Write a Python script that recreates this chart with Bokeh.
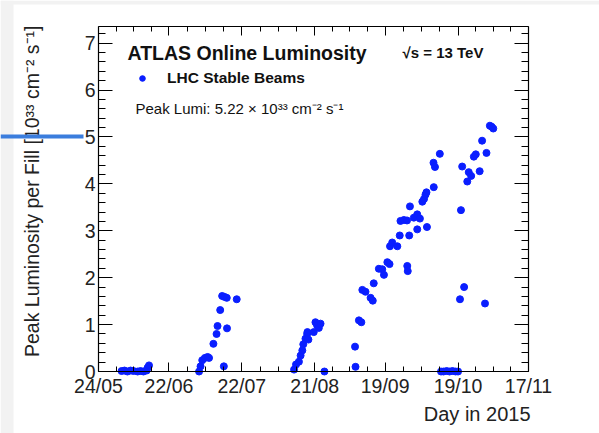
import numpy as np
from bokeh.plotting import figure
from bokeh.models import (Range1d, FixedTicker, LinearAxis, Label, BoxAnnotation,
                          Legend, LegendItem)
from bokeh.embed import file_html
from bokeh.resources import INLINE

# ---- data: day of year 2015 (1 = 1 Jan) and peak luminosity [1e33 cm-2 s-1]
fill_day = [153.5, 154.7, 155.9, 157.2, 158.4, 160.1, 161.3, 162.5, 163.8, 164.2, 164.8,
            185.4, 186.0, 186.7, 187.8, 188.9, 189.5, 191.3, 192.6, 193.0, 194.1, 194.9,
            195.9, 196.8, 196.9, 195.6, 200.9,
            224.5, 225.3, 226.5, 227.2, 227.9, 228.3, 229.2, 229.9, 230.4, 230.0, 232.6,
            233.3, 234.0, 234.7, 235.4, 237.0,
            249.8, 249.6, 251.2, 252.2, 252.6, 253.9, 256.0, 256.9, 257.3, 259.4, 260.8,
            261.5, 262.9, 263.8, 264.0, 264.9, 267.0, 268.0, 268.3, 269.7, 271.0, 271.1,
            271.3, 271.9, 272.2, 273.8, 275.2, 276.3, 275.2, 279.2, 277.3, 278.0, 278.6,
            279.0, 282.0, 281.9, 282.5, 284.5,
            285.0, 286.0, 287.3, 288.5, 289.7, 291.0, 292.0,
            292.8, 293.2, 293.7, 294.5, 295.8, 296.4, 297.4, 298.5, 299.3, 300.9, 301.9,
            303.1, 303.7, 305.1, 305.8, 306.5]
peak_lumi = [0.01, 0.02, 0.00, 0.02, 0.01, 0.00, 0.01, 0.00, 0.02, 0.08, 0.13,
             0.00, 0.11, 0.24, 0.29, 0.31, 0.29, 0.59, 0.80, 0.97, 1.31, 1.61,
             1.59, 1.57, 0.92, 0.11, 1.54,
             0.04, 0.15, 0.21, 0.34, 0.45, 0.58, 0.70, 0.80, 0.68, 0.84, 0.84,
             1.05, 0.98, 0.93, 1.02, 0.00,
             0.10, 0.53, 1.09, 1.05, 1.74, 1.70, 1.57, 1.51, 1.88, 2.19, 2.18,
             2.06, 2.33, 2.29, 2.67, 2.75, 2.67, 2.90, 3.21, 3.23, 3.22, 2.25,
             2.14, 2.90, 3.52, 3.28, 3.35, 3.26, 3.03, 3.08, 3.62, 3.68, 3.77,
             3.82, 3.93, 4.45, 4.36, 4.64,
             0.00, 0.00, 0.01, 0.00, 0.01, 0.00, 0.00,
             1.54, 3.44, 4.37, 1.80, 4.05, 4.25, 4.17, 4.58, 4.63, 4.27, 4.92,
             1.45, 4.66, 5.24, 5.22, 5.18]

x_tick_days = [144, 173, 203, 233, 262, 292, 321]
x_tick_labels = ["24/05", "22/06", "22/07", "21/08", "19/09", "19/10", "17/11"]
y_ticks = [0, 1, 2, 3, 4, 5, 6, 7]

# axis extent (data) and where the axis box sits on the page (pixels)
X0, X1 = 144, 321
Y0, Y1 = 0.0, 7.355
W, H = 599, 433
FL, FR, FT, FB = 98, 528, 26, 371

kx = (FR - FL) / (X1 - X0)
ky = (FB - FT) / (Y1 - Y0)

def sx(px):
    return X0 + (px - FL) / kx

def sy(py):
    return Y0 + (FB - py) / ky

FONT = "Liberation Sans"

p = figure(width=W, height=H,
           x_range=Range1d(sx(0), sx(W)), y_range=Range1d(sy(H), sy(0)),
           x_axis_location=None, y_axis_location=None,
           output_backend="svg", toolbar_location=None,
           min_border_left=0, min_border_right=0, min_border_top=0, min_border_bottom=0)
p.grid.visible = False
p.background_fill_color = "white"
p.border_fill_color = "white"
p.outline_line_color = None

# light page border strips of the screenshot
p.add_layout(BoxAnnotation(right=sx(13), fill_color="#f2f2f2", fill_alpha=1.0,
                           line_color=None, level="underlay"))
p.add_layout(BoxAnnotation(bottom=sy(4), fill_color="#f2f2f2", fill_alpha=1.0,
                           line_color=None, level="underlay"))

x_minor = []
for a, b in zip(x_tick_days[:-1], x_tick_days[1:]):
    x_minor += [a + (b - a) * k / 4 for k in range(1, 4)]
y_minor = [round(v, 2) for v in np.arange(0, 7.3, 0.2)]

xticker = FixedTicker(ticks=x_tick_days, minor_ticks=x_minor)
yticker = FixedTicker(ticks=y_ticks, minor_ticks=y_minor)

def make_axis(ticker, loc, bounds, major_len, minor_len, overrides, standoff):
    ax = LinearAxis(ticker=ticker, fixed_location=loc, bounds=bounds)
    ax.major_tick_in = major_len
    ax.major_tick_out = 0
    ax.minor_tick_in = minor_len
    ax.minor_tick_out = 0
    ax.axis_line_color = "black"
    ax.axis_line_width = 1.2
    ax.major_tick_line_color = "black"
    ax.minor_tick_line_color = "black"
    ax.major_label_text_font = FONT
    ax.major_label_text_font_size = "19.5px"
    ax.major_label_text_color = "#222222"
    ax.major_label_standoff = standoff
    ax.major_label_overrides = overrides
    return ax

bottom_ax = make_axis(xticker, Y0, (X0, X1), 9, 5,
                      {d: s for d, s in zip(x_tick_days, x_tick_labels)}, 3)
left_ax = make_axis(yticker, X0, (Y0, Y1), 14, 7, {t: str(t) for t in y_ticks}, 3)
top_ax = make_axis(xticker, Y1, (X0, X1), 9, 5, {d: "" for d in x_tick_days}, 0)
right_ax = make_axis(yticker, X1, (Y0, Y1), 14, 7, {t: "" for t in y_ticks}, 0)
p.add_layout(bottom_ax, "below")
p.add_layout(left_ax, "left")
p.add_layout(top_ax, "above")
p.add_layout(right_ax, "right")

r = p.scatter(fill_day, peak_lumi, size=7, color="#0a1eff", line_color="#0a1eff")

legend = Legend(items=[LegendItem(label="LHC Stable Beams", renderers=[r])],
                location=(FL + 37, H - 88), glyph_width=14, glyph_height=20, label_height=20,
                label_standoff=18, padding=0, margin=0, spacing=0,
                border_line_color=None, background_fill_alpha=0,
                label_text_font=FONT, label_text_font_style="bold",
                label_text_font_size="15.5px", label_text_color="#111111")
p.add_layout(legend)

def add_text(px, py, text, size, bold=False, align="left", angle=0.0, color="#111111"):
    p.add_layout(Label(x=sx(px), y=sy(py), text=text, text_font=FONT,
                       text_font_size=size, text_font_style="bold" if bold else "normal",
                       text_align=align, text_baseline="middle", angle=angle,
                       text_color=color))

add_text(127, 52, "ATLAS Online Luminosity", "19.5px", bold=True)
add_text(402, 52, "\u221as = 13 TeV", "15px", bold=True)
add_text(135, 108, "Peak Lumi: 5.22 \u00d7 10\u00b3\u00b3 cm\u207b\u00b2 s\u207b\u00b9", "15px")
add_text(530, 413, "Day in 2015", "20px", align="right", color="#222222")
add_text(31, 25, "Peak Luminosity per Fill [10\u00b3\u00b3 cm\u207b\u00b2 s\u207b\u00b9]", "19.5px",
         align="right", angle=np.pi / 2, color="#222222")

# blue marker line at the left page edge (level 5)
p.add_layout(BoxAnnotation(right=sx(83), bottom=sy(138), top=sy(134),
                           fill_color="#3b7ddd", fill_alpha=1.0, line_color=None))

open("out.html", "w").write(file_html(p, INLINE))
